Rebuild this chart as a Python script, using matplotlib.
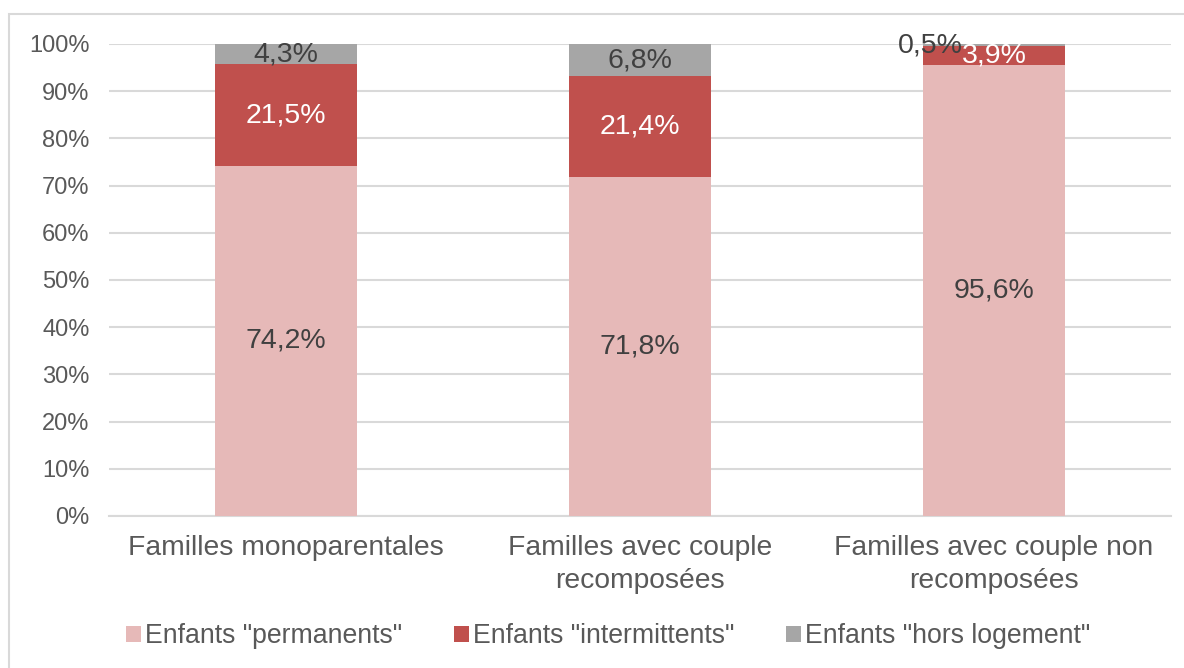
import numpy as np
import matplotlib.pyplot as plt
from matplotlib.patches import Rectangle

plt.rcParams['font.family'] = ['Liberation Sans', 'DejaVu Sans']

categories = ["Familles monoparentales",
              "Familles avec couple\nrecomposées",
              "Familles avec couple non\nrecomposées"]
series_names = ['Enfants "permanents"', 'Enfants "intermittents"',
                'Enfants "hors logement"']
permanents = [74.2, 71.8, 95.6]
intermittents = [21.5, 21.4, 3.9]
hors_logement = [4.3, 6.8, 0.5]
yticks = [0, 10, 20, 30, 40, 50, 60, 70, 80, 90, 100]

colors = ["#E6B9B8", "#C0504D", "#A6A6A6"]
label_colors = ["#404040", "white", "#404040"]

fig = plt.figure(figsize=(11.84, 6.68), dpi=100)
ax = fig.add_axes([109 / 1184, 1 - 516 / 668, 1062 / 1184, 472 / 668])

x = np.arange(len(categories))
bottom = np.zeros(len(categories))
series = [permanents, intermittents, hors_logement]
bars = []
for vals, col, name in zip(series, colors, series_names):
    b = ax.bar(x, vals, width=0.4, bottom=bottom, color=col, label=name, zorder=3)
    bars.append(b)
    bottom += np.array(vals)

# value labels
for i, (vals, b) in enumerate(zip(series, bars)):
    for j, (v, rect) in enumerate(zip(vals, b)):
        cx = rect.get_x() + rect.get_width() / 2
        cy = rect.get_y() + rect.get_height() / 2
        if i == 2 and j == 2:
            # small slice, label moved left like the original
            cx = cx - 0.18
            cy = cy - 0.1
        ax.text(cx, cy, f"{v:.1f}%".replace(".", ","), ha="center", va="center",
                fontsize=20.5, color=label_colors[i], zorder=5)

ax.set_xlim(-0.5, 2.5)
ax.set_ylim(0, 100)
ax.set_yticks(yticks)
ax.set_yticklabels([f"{t}%" for t in yticks])
ax.set_xticks(x)
ax.set_xticklabels(categories, fontsize=20.3, color="#595959", linespacing=1.35)
ax.tick_params(axis="y", length=0, pad=14, labelsize=17, labelcolor="#595959")
ax.tick_params(axis="x", length=0, pad=14)
ax.yaxis.grid(True, color="#D9D9D9", linewidth=1.5, zorder=0)
for s in ["left", "right", "top"]:
    ax.spines[s].set_visible(False)
ax.spines["bottom"].set_color("#D9D9D9")
ax.spines["bottom"].set_linewidth(1.5)

fig.legend(loc="center", bbox_to_anchor=(0.5135, 1 - 636 / 668), ncol=3,
           frameon=False, fontsize=19.2, labelcolor="#595959",
           handlelength=0.55, handleheight=0.55, handletextpad=0.15,
           columnspacing=1.95)

# outer chart border
fig.patches.append(Rectangle((9 / 1184, -0.05), 1.2, 1 - 14 / 668 + 0.05,
                             transform=fig.transFigure, fill=False,
                             edgecolor="#D9D9D9", linewidth=1.5))

fig.savefig("out.png", dpi=100)
